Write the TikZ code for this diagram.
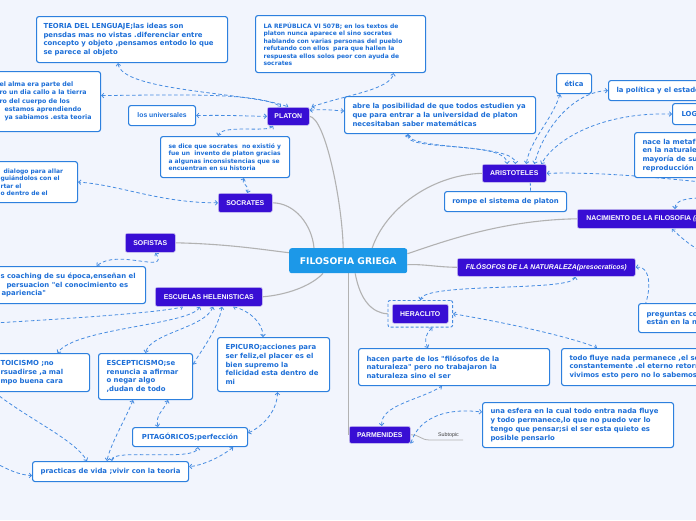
\documentclass[tikz,border=0pt]{standalone}
\usepackage{fontspec}
\newfontfamily\dejavu{DejaVu Sans}
\newfontfamily\libsans{Liberation Sans}
\usetikzlibrary{arrows.meta,calc,fit}
\pgfdeclarelayer{bgl}
\pgfdeclarelayer{edges}
\pgfsetlayers{bgl,edges,main}
\definecolor{bgc}{RGB}{242,245,253}
\definecolor{purp}{RGB}{56,14,212}
\definecolor{pborder}{RGB}{205,198,240}
\definecolor{cenc}{RGB}{28,152,232}
\definecolor{boxblue}{RGB}{45,128,222}
\definecolor{txtblue}{RGB}{28,110,215}
\definecolor{dashblue}{RGB}{70,140,225}
\definecolor{greyline}{RGB}{178,178,178}
\newcommand\myw{\dejavu\bfseries\fontsize{6.9pt}{8.7pt}\selectfont}
\newcommand\mya{\dejavu\bfseries\fontsize{6.3pt}{8.3pt}\selectfont}
\newcommand\mys{\dejavu\bfseries\fontsize{6pt}{7.5pt}\selectfont}
\newcommand\myu{\libsans\bfseries\fontsize{6.8pt}{8pt}\selectfont}
\newcommand\myp{\libsans\bfseries\fontsize{6.9pt}{8pt}\selectfont}
\newcommand\myc{\dejavu\bfseries\fontsize{9.2pt}{11pt}\selectfont}
\newcommand\mysub{\libsans\fontsize{5.3pt}{6pt}\selectfont}
\newcommand\fw[2]{\makebox[#1][l]{#2}}
\tikzset{
 wbox/.style={draw=boxblue, fill=white, line width=1.1pt, rounded corners=2.5pt, text=txtblue, font=\myw, align=left, inner xsep=7pt, inner ysep=2pt, anchor=north west},
 pbox/.style={draw=pborder, line width=0.6pt, fill=purp, text=white, font=\myp, rounded corners=2pt, inner sep=0pt, anchor=north west, align=center},
 link/.style={draw=dashblue, line width=0.8pt, dash pattern=on 3.5pt off 2.5pt, {Straight Barb[length=2.2pt,width=4.6pt]}-{Straight Barb[length=2.2pt,width=4.6pt]}},
 linkn/.style={draw=dashblue, line width=0.8pt, dash pattern=on 3pt off 2pt},
 mainline/.style={draw=greyline, line width=1.1pt}
}
\begin{document}
\begin{tikzpicture}[x=1pt,y=-1pt]
\useasboundingbox (0,0) rectangle (696,520);
\begin{pgfonlayer}{bgl}
\fill[bgc] (0,0) rectangle (696,520);
\end{pgfonlayer}
\begin{scope}
\clip (0,0) rectangle (696,520);
% central
\node[fill=cenc, rounded corners=2.5pt, text=white, font=\myc, minimum width=118pt, minimum height=25pt, inner sep=0pt, anchor=north west] (cen) at (289,248) {FILOSOFIA GRIEGA};
% main topics
\node[pbox, minimum width=42pt, minimum height=18pt] (plat) at (267,107) {PLATON};
\node[pbox, minimum width=54pt, minimum height=19pt] (soc) at (218,193) {SOCRATES};
\node[pbox, minimum width=50pt, minimum height=19pt] (sof) at (125,233) {SOFISTAS};
\node[pbox, minimum width=107pt, minimum height=19pt] (esc) at (155,287) {ESCUELAS HELENISTICAS};
\node[pbox, minimum width=64pt, minimum height=18pt] (ari) at (482,164) {ARISTOTELES};
\node[pbox, inner xsep=9pt, minimum height=19pt] (nac) at (577,209) {NACIMIENTO DE LA FILOSOFIA \textit{(griega)}};
\node[pbox, minimum width=178pt, minimum height=18pt, font=\myp\itshape] (filo) at (457,258) {FILÓSOFOS DE LA NATURALEZA(presocraticos)};
\node[pbox, minimum width=56pt, minimum height=19pt] (her) at (392,304) {HERACLITO};
\node[fit=(her), inner xsep=4pt, inner ysep=3.5pt, draw=dashblue, dash pattern=on 3pt off 2pt, line width=0.9pt, rounded corners=2pt] (herout) {};
\node[pbox, minimum width=61pt, minimum height=17pt] (parm) at (349,426) {PARMENIDES};
% white boxes
\node[wbox, minimum width=191pt, minimum height=46pt] (teoria) at (36,16) {\fw{177pt}{TEORIA DEL LENGUAJE;las ideas son}\\pensdas mas no vistas .diferenciar entre\\concepto y objeto ,pensamos entodo lo que\\se parece al objeto};
\node[wbox, font=\mya, inner xsep=7pt, text width=94pt, minimum height=60pt] (alma) at (-8,71) {el alma era parte del\\ro un dia callo a la tierra\\ro del cuerpo de los\\\hspace*{5pt}estamos aprendiendo\\\hspace*{5pt}ya sabiamos .esta teoria};
\node[wbox, font=\myu, minimum width=67pt, minimum height=20pt] (univ) at (128,105) {los universales};
\node[wbox, font=\mys, minimum width=170pt, minimum height=57pt, inner xsep=8pt] (repub) at (255,15) {\fw{154pt}{LA REPÚBLICA VI 507B; en los textos de}\\platon nunca aparece el sino socrates\\hablando con varias personas del pueblo\\refutando con ellos\ \ para que hallen la\\respuesta ellos solos peor con ayuda de\\socrates};
\node[wbox, inner xsep=8pt, minimum width=191pt, minimum height=37pt] (abre) at (344,96) {\fw{175pt}{abre la posibilidad de que todos estudien ya}\\que para entrar a la universidad de platon\\necesitaban saber matemáticas};
\node[wbox, font=\mys, inner xsep=8pt, minimum width=129pt, minimum height=41pt] (sedice) at (160,136) {\fw{113pt}{se dice que socrates\ \ no existió y}\\fue un\ \ invento de platon gracias\\a algunas inconsistencias que se\\encuentran en su historia};
\node[wbox, font=\mys, inner xsep=8pt, text width=69pt, minimum height=41pt] (dialogo) at (-8,161) {\hspace*{3pt}dialogo para allar\\guiándolos con el\\rtar el\\o dentro de el};
\node[wbox, minimum width=35pt, minimum height=20pt] (etica) at (556,73) {ética};
\node[wbox, inner xsep=8pt, minimum height=20pt] (politica) at (608,80) {la política y el estado};
\node[wbox, inner xsep=9pt, minimum height=21pt] (logica) at (672,103) {LOGICA};
\node[wbox, inner xsep=8pt, minimum height=45pt] (nace) at (634,132) {nace la metafísica\\en la naturaleza\\mayoría de sus\\reproducción};
\node[wbox, minimum width=122pt, minimum height=20pt] (rompe) at (444,191) {rompe el sistema de platon};
\node[wbox, inner xsep=8pt, minimum height=29pt] (preguntas) at (638,303) {preguntas como\\están en la naturaleza};
\node[wbox, inner xsep=8pt, minimum width=153pt, minimum height=37pt] (coaching) at (-8,266) {\fw{137pt}{s coaching de su época,enseñan el}\\\hspace*{6pt}persuacion "el conocimiento es\\\hspace*{1pt}apariencia"};
\node[wbox, inner xsep=8pt, text width=81pt, minimum height=38pt] (stoic) at (-8,353) {TOICISMO ;no\\rsuadirse ,a mal\\mpo buena cara};
\node[wbox, inner xsep=8pt, minimum width=94pt, minimum height=46pt] (escep) at (98,353) {\fw{78pt}{ESCEPTICISMO;se}\\renuncia a afirmar\\o negar algo\\,dudan de todo};
\node[wbox, inner xsep=8pt, minimum width=112pt, minimum height=54pt] (epic) at (217,337) {\fw{96pt}{EPICURO;acciones para}\\ser feliz,el placer es el\\bien supremo la\\felicidad esta dentro de\\mi};
\node[wbox, minimum width=115pt, minimum height=19pt] (pita) at (132,427) {PITAGÓRICOS;perfección};
\node[wbox, minimum width=156pt, minimum height=20pt] (prac) at (32,461) {practicas de vida ;vivir con la teoria};
\node[wbox, inner xsep=8pt, minimum width=191pt, minimum height=37pt] (hacen) at (358,348) {\fw{175pt}{hacen parte de los "filósofos de la}\\naturaleza" pero no trabajaron la\\naturaleza sino el ser};
\node[wbox, inner xsep=8pt, minimum height=37pt] (todo) at (561,348) {todo fluye nada permanece ,el ser\\constantemente .el eterno retorno\\vivimos esto pero no lo sabemos};
\node[wbox, inner xsep=8pt, minimum width=191pt, minimum height=45pt] (esfera) at (482,402) {\fw{175pt}{una esfera en la cual todo entra nada fluye}\\y todo permanece,lo que no puedo ver lo\\tengo que pensar;si el ser esta quieto es\\posible pensarlo};
\node[font=\mysub, text=black!75, inner sep=0pt, anchor=base west] (subt) at (438,436) {Subtopic};
\end{scope}
\coordinate (offL1) at (-6,323);
\coordinate (offL2) at (-6,392);
\coordinate (offL3) at (-6,462);
\coordinate (offR1) at (702,182);
\coordinate (offR2) at (702,198);
\coordinate (offR3) at (702,252);
\begin{pgfonlayer}{edges}
\clip (0,0) rectangle (696,520);
% grey main connectors
\draw[mainline] (plat.east) .. controls (325,118) and (342,200) .. ($(cen.north)+(-5,0)$);
\draw[mainline] (soc.east) .. controls (295,203) and (312,225) .. ($(cen.north west)+(25,0)$);
\draw[mainline] (sof.east) .. controls (230,244) and (265,250) .. ($(cen.west)+(0,-8)$);
\draw[mainline] (esc.east) .. controls (285,295) and (310,287) .. ($(cen.south west)+(34,0)$);
\draw[mainline] (ari.west) .. controls (430,175) and (385,210) .. ($(cen.north)+(24,0)$);
\draw[mainline] (nac.west) .. controls (500,220) and (440,243) .. ($(cen.east)+(0,-7)$);
\draw[mainline] (filo.west) .. controls (435,267) and (425,264) .. ($(cen.east)+(0,4)$);
\draw[mainline] ($(cen.south)+(7,0)$) .. controls (360,300) and (372,313) .. (herout.west);
\draw[mainline] (cen.south) -- (cen.south |- parm.west);
\draw[mainline, line width=0.8pt] (parm.east) .. controls (420,434.5) and (420,440) .. ($(subt.base west)+(-8,4)$) -- ($(subt.base east)+(4,4)$);
% dashed links
\draw[link] ($(teoria.south west)+(82,0)$) .. controls (122,92) and (250,92) .. (plat.north);
\draw[link] ($(alma.east)+(0,-6)$) .. controls (170,95) and (260,92) .. ($(plat.north west)+(14,0)$);
\draw[link] (univ.east) .. controls (230,115) and (240,116) .. (plat.west);
\draw[link] ($(plat.south west)+(6,0)$) .. controls (268,133) and (222,124) .. ($(sedice.north)+(-7,0)$);
\draw[link] ($(plat.east)+(0,-6)$) .. controls (325,109) and (330,110) .. ($(abre.west)+(0,-4)$);
\draw[link] ($(plat.north east)+(2,0)$) .. controls (345,95) and (390,90) .. ($(repub.south)+(53,0)$);
\draw[link] ($(sedice.south)+(19,0)$) .. controls (241,186) and (250,184) .. ($(soc.north)+(2,0)$);
\draw[link] (soc.west) .. controls (160,203) and (120,185) .. (dialogo.east);
\draw[link] ($(sof.south)+(5,0)$) .. controls (170,275) and (118,248) .. ($(coaching.north)+(27.5,0)$);
\draw[link] (offL1) .. controls (80,318) and (165,312) .. ($(esc.south west)+(28,0)$);
\draw[link] ($(esc.south west)+(45,0)$) .. controls (190,325) and (75,328) .. ($(stoic.north)+(16.5,0)$);
\draw[link] ($(esc.south west)+(58,0)$) .. controls (205,328) and (150,333) .. (escep.north);
\draw[link] ($(esc.south west)+(67,0)$) .. controls (218,330) and (200,352) .. ($(escep.east)+(0,-12)$);
\draw[link] ($(esc.south west)+(78,0)$) .. controls (248,310) and (263,322) .. ($(epic.north west)+(46,0)$);
\draw[link] (offL2) .. controls (30,420) and (75,440) .. ($(prac.north west)+(55,0)$);
\draw[link] (offL3) .. controls (8,470) and (20,475) .. ($(prac.west)+(0,4)$);
\draw[link] ($(escep.south west)+(35,0)$) .. controls (125,420) and (110,445) .. ($(prac.north west)+(75,0)$);
\draw[link] ($(escep.south west)+(70,0)$) .. controls (164,410) and (155,415) .. ($(pita.north west)+(26,0)$);
\draw[link] ($(prac.north west)+(80,0)$) .. controls (110,448) and (196,462) .. ($(pita.south west)+(66,0)$);
\draw[link] ($(pita.south east)+(-15,0)$) .. controls (220,458) and (200,466) .. ($(prac.east)+(0,-5)$);
\draw[link] ($(pita.east)+(0,-4)$) .. controls (265,425) and (277,410) .. ($(epic.south)+(4,0)$);
\draw[link] ($(abre.south west)+(64,0)$) .. controls (404,152) and (505,140) .. ($(ari.north)+(-7,0)$);
\draw[link] ($(abre.south west)+(64,0)$) .. controls (410,150) and (516,144) .. ($(ari.north)+(1,0)$);
\draw[link] ($(etica.south west)+(4,0)$) .. controls (552,120) and (530,140) .. ($(ari.north)+(12,0)$);
\draw[link] (politica.west) .. controls (575,92) and (545,125) .. ($(ari.north)+(20,0)$);
\draw[link] (logica.west) .. controls (600,112) and (555,140) .. ($(ari.north)+(27,0)$);
\draw[link] (ari.east) .. controls (600,172) and (650,177) .. (offR1);
\draw[linkn] ($(ari.south)+(16,0)$) -- ($(rompe.north)+(25,0)$);
\draw[link] ($(nac.north west)+(98,0)$) .. controls (675,200) and (688,198) .. (offR2);
\draw[link] ($(nac.south west)+(95,0)$) .. controls (680,237) and (690,245) .. (offR3);
\draw[link] (filo.east) .. controls (655,265) and (650,305) .. ($(preguntas.west)+(0,-2)$);
\draw[link] ($(filo.south)+(29,0)$) .. controls (572,292) and (425,282) .. (herout.north);
\draw[link] (herout.east) .. controls (520,325) and (580,340) .. ($(todo.north west)+(36,0)$);
\draw[link] ($(herout.south)+(12,0)$) .. controls (425,335) and (424,340) .. ($(hacen.north west)+(70,0)$);
\draw[link] ($(parm.north)+(2,0)$) .. controls (380,405) and (420,400) .. ($(hacen.south west)+(84,0)$);
\draw[link] (parm.south east) .. controls (420,415) and (450,408) .. ($(esfera.west)+(0,-13)$);
\end{pgfonlayer}
\end{tikzpicture}
\end{document}
